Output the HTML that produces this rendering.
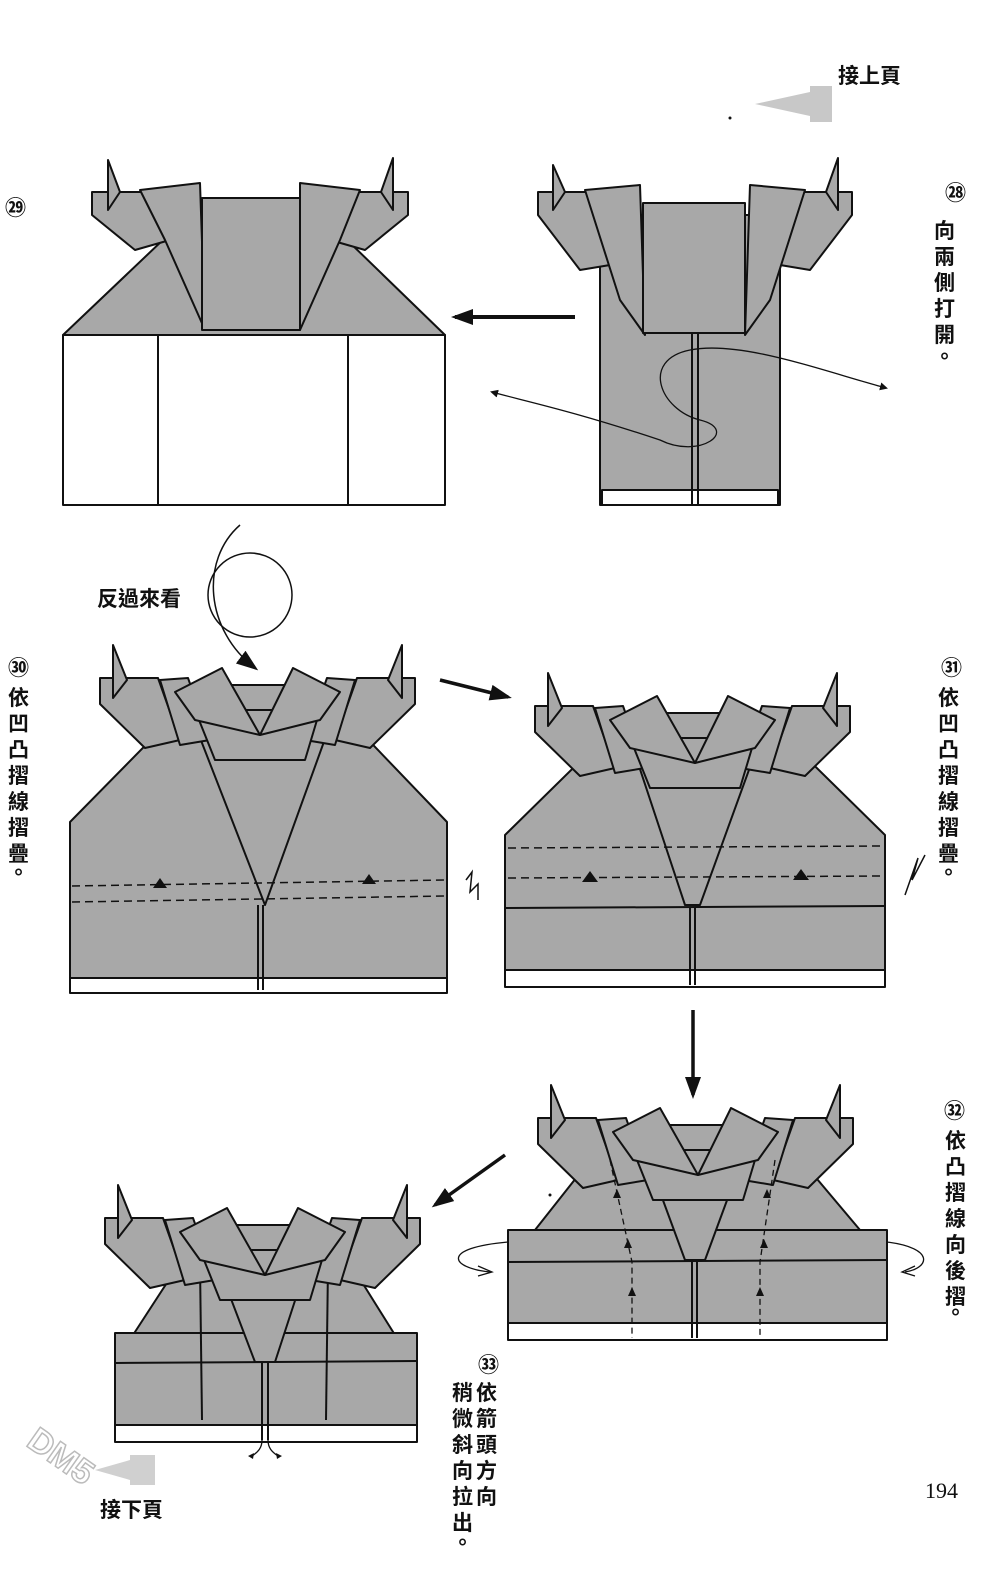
<!DOCTYPE html>
<html><head><meta charset="utf-8"><style>
body{margin:0;background:#fff}
.t{font-family:"Liberation Sans","Noto Sans CJK TC",sans-serif;font-weight:bold;font-size:21px;fill:#111}
</style></head><body>
<svg width="1000" height="1567" viewBox="0 0 1000 1567" xmlns="http://www.w3.org/2000/svg">
<defs>
<marker id="ah" markerWidth="8" markerHeight="8" refX="6" refY="4" orient="auto" markerUnits="userSpaceOnUse"><path d="M0,0L8,4L0,8z" fill="#111"/></marker>
<marker id="ab" markerWidth="22" markerHeight="16" refX="18" refY="8" orient="auto" markerUnits="userSpaceOnUse"><path d="M0,0L22,8L0,16z" fill="#111"/></marker>
<g id="collar" fill="#a8a8a8" stroke="#111" stroke-width="2" stroke-linejoin="round">
<path d="M0,38L58,38L80,100L45,108L0,64z"/>
<path d="M13,5L27,40L13,58z"/>
<path d="M315,38L257,38L235,100L270,108L315,64z"/>
<path d="M302,5L288,40L302,58z"/>
<rect x="125" y="45" width="70" height="40"/>
<path d="M60,40L88,38L110,100L80,105z"/>
<path d="M255,40L227,38L205,100L235,105z"/>
<path d="M95,70L115,120L205,120L220,70z"/>
<path d="M75,52L122,28L160,95L95,80z"/>
<path d="M240,52L193,28L160,95L220,80z"/>
</g>
</defs>

<!-- header -->
<text class="t" x="838" y="83">接上頁</text>
<path d="M755,104L810,92L810,86L832,86L832,122L810,122L810,116z" fill="#c8c8c8"/>
<circle cx="730" cy="118" r="1.5" fill="#111"/>

<!-- diagram 28 -->
<g fill="#a8a8a8" stroke="#111" stroke-width="2" stroke-linejoin="round">
<rect x="600" y="215" width="180" height="290"/>
<rect x="602" y="490" width="176" height="15" fill="#fff"/>
<line x1="692" y1="330" x2="692" y2="505"/><line x1="698" y1="330" x2="698" y2="505"/>
<path d="M538,192L590,192L610,265L580,270L538,215z"/>
<path d="M553,165L565,192L553,210z"/>
<path d="M852,192L800,192L780,265L810,270L852,215z"/>
<path d="M838,158L826,192L838,210z"/>
<path d="M585,190L640,185L645,335L620,300z"/>
<path d="M805,190L750,185L745,335L770,300z"/>
<rect x="643" y="203" width="102" height="130"/>
</g>
<path d="M690,350C640,360 660,410 700,420C740,430 700,460 660,440C570,410 520,400 492,392" fill="none" stroke="#111" stroke-width="1.3" marker-end="url(#ah)"/>
<path d="M690,350C740,340 820,370 886,388" fill="none" stroke="#111" stroke-width="1.3" marker-end="url(#ah)"/>
<path d="M575,317L455,317" stroke="#111" stroke-width="4" marker-end="url(#ab)"/>
<text class="t" x="945" y="200" font-size="16">㉘</text>
<text class="t" x="934" y="238">向</text><text class="t" x="934" y="264">兩</text><text class="t" x="934" y="290">側</text><text class="t" x="934" y="316">打</text><text class="t" x="934" y="342">開</text><text class="t" x="934" y="364">。</text>

<!-- diagram 29 -->
<g fill="#a8a8a8" stroke="#111" stroke-width="2" stroke-linejoin="round">
<path d="M63,335L165,238L345,238L445,335z"/>
<rect x="63" y="335" width="382" height="170" fill="#fff"/>
<line x1="158" y1="335" x2="158" y2="505"/><line x1="348" y1="335" x2="348" y2="505"/>
<path d="M92,192L145,192L170,240L135,250L92,215z"/>
<path d="M108,160L120,192L108,210z"/>
<path d="M408,192L355,192L330,240L365,250L408,215z"/>
<path d="M393,158L381,192L393,210z"/>
<path d="M140,190L200,183L205,330L165,240z"/>
<path d="M360,190L300,183L300,330L340,240z"/>
<rect x="202" y="198" width="98" height="132"/>
</g>
<text class="t" x="5" y="215" font-size="16">㉙</text>

<!-- flip -->
<circle cx="250" cy="595" r="42" fill="none" stroke="#111" stroke-width="1.5"/>
<path d="M240,525C200,560 205,630 255,668" fill="none" stroke="#111" stroke-width="1.5" marker-end="url(#ab)"/>
<text class="t" x="97" y="606">反過來看</text>

<!-- diagram 30 -->
<g fill="#a8a8a8" stroke="#111" stroke-width="2" stroke-linejoin="round">
<path d="M70,822L190,700L330,700L447,822L447,980L70,980z"/>
<rect x="70" y="978" width="377" height="15" fill="#fff"/>
<path d="M195,725L330,725L265,905z" />
<line x1="258" y1="905" x2="258" y2="990"/><line x1="263" y1="905" x2="263" y2="990"/>
</g>
<use href="#collar" x="100" y="640"/>
<g stroke="#111" stroke-width="1.5" stroke-dasharray="8,5"><line x1="72" y1="886" x2="445" y2="880"/><line x1="72" y1="902" x2="445" y2="896"/></g>
<path d="M153,888L160,878L167,888z M362,884L369,874L376,884z" fill="#111"/>
<path d="M466,880L472,872L470,892L478,884L478,900" fill="none" stroke="#111" stroke-width="1.5"/>
<path d="M440,680L508,697" stroke="#111" stroke-width="3.5" marker-end="url(#ab)"/>
<text class="t" x="8" y="675" font-size="16">㉚</text>
<g class="t"><text x="8" y="705">依</text><text x="8" y="731">凹</text><text x="8" y="757">凸</text><text x="8" y="783">摺</text><text x="8" y="809">線</text><text x="8" y="835">摺</text><text x="8" y="861">疊</text><text x="8" y="880">。</text></g>

<!-- diagram 31 -->
<g fill="#a8a8a8" stroke="#111" stroke-width="2" stroke-linejoin="round">
<path d="M505,835L620,722L770,722L885,835L885,975L505,975z"/>
<line x1="505" y1="908" x2="885" y2="906"/>
<rect x="505" y="970" width="380" height="17" fill="#fff"/>
<path d="M632,745L758,745L700,905L685,905z"/>
<line x1="690" y1="908" x2="690" y2="985"/><line x1="695" y1="908" x2="695" y2="985"/>
</g>
<use href="#collar" x="535" y="668"/>
<g stroke="#111" stroke-width="1.5" stroke-dasharray="8,5"><line x1="508" y1="848" x2="883" y2="846"/><line x1="508" y1="878" x2="883" y2="876"/></g>
<path d="M582,882L590,871L598,882z M793,880L801,869L809,880z" fill="#111"/>
<path d="M905,895L918,858L912,880L925,855" fill="none" stroke="#111" stroke-width="1.5"/>
<text class="t" x="941" y="675" font-size="16">㉛</text>
<g class="t"><text x="938" y="705">依</text><text x="938" y="731">凹</text><text x="938" y="757">凸</text><text x="938" y="783">摺</text><text x="938" y="809">線</text><text x="938" y="835">摺</text><text x="938" y="861">疊</text><text x="938" y="880">。</text></g>
<path d="M693,1010L693,1095" stroke="#111" stroke-width="3.5" marker-end="url(#ab)"/>

<!-- diagram 32 -->
<g fill="#a8a8a8" stroke="#111" stroke-width="2" stroke-linejoin="round">
<path d="M535,1230L610,1135L780,1135L860,1230z"/>
<rect x="508" y="1230" width="379" height="95"/>
<line x1="508" y1="1262" x2="887" y2="1260"/>
<rect x="508" y="1323" width="379" height="17" fill="#fff"/>
<path d="M650,1165L740,1165L705,1260L685,1260z"/>
<line x1="692" y1="1262" x2="692" y2="1338"/><line x1="697" y1="1262" x2="697" y2="1338"/>
</g>
<use href="#collar" x="538" y="1080"/>
<g stroke="#111" stroke-width="1.3" stroke-dasharray="6,4" fill="none"><path d="M610,1160L632,1262L632,1338"/><path d="M775,1160L760,1262L760,1338"/></g>
<path d="M613,1198l4,-9l4,9z M624,1248l4,-9l4,9z M628,1296l4,-9l4,9z M763,1198l4,-9l4,9z M760,1248l4,-9l4,9z M756,1296l4,-9l4,9z" fill="#111"/>
<path d="M508,1242C440,1248 450,1268 490,1272" fill="none" stroke="#111" stroke-width="1.3"/>
<path d="M478,1266L492,1272L478,1276" fill="none" stroke="#111" stroke-width="1.3"/>
<path d="M887,1242C935,1248 930,1268 905,1272" fill="none" stroke="#111" stroke-width="1.3"/>
<path d="M915,1266L902,1272L915,1276" fill="none" stroke="#111" stroke-width="1.3"/>
<circle cx="550" cy="1195" r="1.5" fill="#111"/>
<text class="t" x="944" y="1118" font-size="16">㉜</text>
<g class="t"><text x="945" y="1148">依</text><text x="945" y="1174">凸</text><text x="945" y="1200">摺</text><text x="945" y="1226">線</text><text x="945" y="1252">向</text><text x="945" y="1278">後</text><text x="945" y="1304">摺</text><text x="945" y="1320">。</text></g>
<path d="M505,1155L435,1205" stroke="#111" stroke-width="3.5" marker-end="url(#ab)"/>

<!-- diagram 33 -->
<g fill="#a8a8a8" stroke="#111" stroke-width="2" stroke-linejoin="round">
<path d="M133,1335L185,1255L345,1255L395,1335z"/>
<rect x="115" y="1333" width="302" height="95"/>
<line x1="115" y1="1363" x2="417" y2="1361"/>
<rect x="115" y="1425" width="302" height="17" fill="#fff"/>
<path d="M220,1270L305,1270L275,1362L255,1362z"/>
<line x1="200" y1="1265" x2="202" y2="1420"/><line x1="328" y1="1265" x2="326" y2="1420"/>
<line x1="262" y1="1362" x2="262" y2="1440"/><line x1="268" y1="1362" x2="268" y2="1440"/>
</g>
<use href="#collar" x="105" y="1180"/>
<path d="M262,1440C262,1448 258,1452 252,1456 M268,1440C268,1448 272,1452 278,1456" fill="none" stroke="#111" stroke-width="1.3"/>
<path d="M248,1456l6,-3l-1,6z M282,1456l-6,-3l1,6z" fill="#111"/>
<text class="t" x="478" y="1372" font-size="16">㉝</text>
<g class="t"><text x="476" y="1400">依</text><text x="476" y="1426">箭</text><text x="476" y="1452">頭</text><text x="476" y="1478">方</text><text x="476" y="1504">向</text>
<text x="452" y="1400">稍</text><text x="452" y="1426">微</text><text x="452" y="1452">斜</text><text x="452" y="1478">向</text><text x="452" y="1504">拉</text><text x="452" y="1530">出</text><text x="452" y="1550">。</text></g>

<!-- footer -->
<path d="M95,1470L130,1460L130,1455L155,1455L155,1485L130,1485L130,1480z" fill="#d0d0d0"/>
<text class="t" x="100" y="1517">接下頁</text>
<text x="925" y="1498" font-family="Liberation Serif,serif" font-size="22" fill="#111">194</text>
<text x="25" y="1445" font-family="Liberation Sans,sans-serif" font-weight="bold" font-size="34" fill="none" stroke="#bbb" stroke-width="1.5" transform="rotate(35 25 1445)">DM5</text>
</svg>
</body></html>
